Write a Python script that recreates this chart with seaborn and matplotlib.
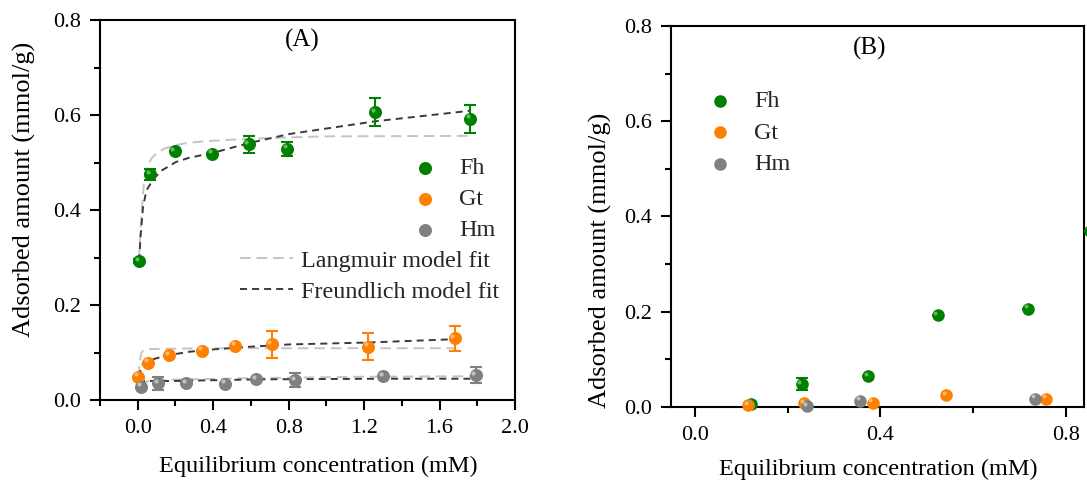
import matplotlib
matplotlib.use("Agg")
import matplotlib.pyplot as plt
from matplotlib.transforms import offset_copy
from matplotlib.ticker import MultipleLocator, FixedLocator
import seaborn as sns
import numpy as np
import pandas as pd

# ---------------- data ----------------
# Panel A : isotherm data
fh_x_A = [0.007, 0.064, 0.195, 0.396, 0.588, 0.791, 1.258, 1.763]
fh_y_A = [0.292, 0.475, 0.524, 0.518, 0.538, 0.529, 0.606, 0.592]
fh_e_A = [0.004, 0.0115, 0.0, 0.0, 0.0175, 0.015, 0.030, 0.030]
gt_x_A = [0.004, 0.055, 0.166, 0.343, 0.517, 0.710, 1.221, 1.680]
gt_y_A = [0.049, 0.078, 0.0945, 0.104, 0.114, 0.117, 0.112, 0.130]
gt_e_A = [0.0, 0.0, 0.0, 0.0, 0.0, 0.029, 0.0287, 0.026]
hm_x_A = [0.016, 0.110, 0.258, 0.464, 0.627, 0.834, 1.299, 1.791]
hm_y_A = [0.028, 0.035, 0.035, 0.034, 0.0434, 0.042, 0.050, 0.0525]
hm_e_A = [0.0, 0.014, 0.0, 0.0, 0.0, 0.015, 0.0, 0.0175]

# Panel A : model-fit curves
lang_fh_x = [0.007, 0.011, 0.021, 0.034, 0.045, 0.057, 0.075, 0.096, 0.14, 0.193, 0.26, 0.361, 0.591, 0.981, 1.759]
lang_fh_y = [0.294, 0.330, 0.399, 0.462, 0.485, 0.497, 0.510, 0.518, 0.529, 0.536, 0.541, 0.545, 0.550, 0.555, 0.556]
freu_fh_x = [0.007, 0.016, 0.028, 0.046, 0.078, 0.122, 0.202, 0.272, 0.396, 0.591, 0.804, 1.264, 1.763]
freu_fh_y = [0.292, 0.350, 0.406, 0.441, 0.462, 0.482, 0.501, 0.510, 0.520, 0.541, 0.560, 0.587, 0.609]
lang_gt_x = [0.004, 0.010, 0.019, 0.030, 0.050, 0.150, 0.500, 1.000, 1.680]
lang_gt_y = [0.049, 0.078, 0.100, 0.104, 0.107, 0.108, 0.109, 0.109, 0.109]
freu_gt_x = [0.004, 0.025, 0.051, 0.096, 0.166, 0.272, 0.396, 0.591, 0.804, 1.221, 1.680]
freu_gt_y = [0.049, 0.074, 0.081, 0.0875, 0.0945, 0.1015, 0.1064, 0.112, 0.117, 0.121, 0.128]
lang_hm_x = [0.016, 0.030, 0.060, 0.200, 0.600, 1.200, 1.791]
lang_hm_y = [0.028, 0.036, 0.040, 0.043, 0.046, 0.049, 0.050]
freu_hm_x = [0.016, 0.034, 0.184, 0.627, 1.300, 1.791]
freu_hm_y = [0.029, 0.040, 0.040, 0.0434, 0.0448, 0.0448]

# Panel B
fh_x_B = [0.120, 0.230, 0.374, 0.523, 0.719, 0.852]
fh_y_B = [0.0057, 0.048, 0.0645, 0.193, 0.206, 0.370]
fh_e_B = [0.004, 0.0126, 0.0, 0.0, 0.0, 0.0]
gt_x_B = [0.115, 0.235, 0.383, 0.541, 0.758]
gt_y_B = [0.004, 0.008, 0.009, 0.025, 0.017]
hm_x_B = [0.241, 0.356, 0.733]
hm_y_B = [0.002, 0.013, 0.017]

series_names = ["Fh", "Gt", "Hm"]
x_ticks_A = [0.0, 0.4, 0.8, 1.2, 1.6, 2.0]
x_ticks_B = [0.0, 0.4, 0.8]
y_ticks = [0.0, 0.2, 0.4, 0.6, 0.8]

# ---------------- style ----------------
sns.set_theme(style="ticks")
plt.rcParams["font.family"] = ["Liberation Serif", "DejaVu Serif"]
plt.rcParams["axes.linewidth"] = 1.5

colors = {"Fh": "#008000", "Gt": "#ff8000", "Hm": "#808080"}
hilite = {"Fh": "#6fbf6f", "Gt": "#ffc080", "Hm": "#c8c8c8"}
LANG_C = "#c4c4c4"
FREU_C = "#3a3a3a"
TICK_FS = 16
LAB_FS = 17.5
YLAB_FS = 19
LEG_FS = 17.4

fig = plt.figure(figsize=(10.87, 4.83), dpi=100)
fig.patch.set_facecolor("white")
axA = fig.add_axes([0.0920, 0.17184, 0.38178, 0.78675])
axB = fig.add_axes([0.61684, 0.15735, 0.38086, 0.78882])


def style_axes(ax, xlim, xmajor, xminor):
    ax.set_facecolor("white")
    ax.set_xlim(*xlim)
    ax.set_ylim(0.0, 0.8)
    ax.xaxis.set_major_locator(FixedLocator(xmajor))
    ax.xaxis.set_minor_locator(FixedLocator(xminor))
    ax.yaxis.set_major_locator(FixedLocator(y_ticks))
    ax.yaxis.set_minor_locator(MultipleLocator(0.1))
    ax.set_xticklabels([f"{v:.1f}" for v in xmajor])
    ax.set_yticklabels([f"{v:.1f}" for v in y_ticks])
    ax.tick_params(which="major", direction="out", length=7, width=1.5,
                   labelsize=TICK_FS, color="black", labelcolor="black", pad=6.5)
    ax.tick_params(which="minor", direction="out", length=4, width=1.5, color="black")
    ax.tick_params(top=False, right=False, which="both")
    for s in ax.spines.values():
        s.set_visible(True)
        s.set_color("black")
        s.set_linewidth(1.5)


def draw_points(ax, xs, ys, name, size, errs=None):
    if errs is not None:
        ax.errorbar(xs, ys, yerr=errs, fmt="none", ecolor=colors[name],
                    elinewidth=1.5, capsize=4.5, capthick=1.5, zorder=3, clip_on=False)
    sns.scatterplot(x=xs, y=ys, ax=ax, s=size, color=colors[name], linewidth=0,
                    zorder=4, label=name, clip_on=False, legend=False)
    tr = offset_copy(ax.transData, fig=fig, x=-1.6, y=1.8, units="points")
    sns.scatterplot(x=xs, y=ys, ax=ax, s=size * 0.1, color=hilite[name], linewidth=0,
                    zorder=5, transform=tr, clip_on=False, legend=False, alpha=0.9)


def draw_curve(ax, xs, ys, color, dashes, label):
    df = pd.DataFrame({"x": xs, "y": ys})
    sns.lineplot(data=df, x="x", y="y", ax=ax, color=color, lw=1.4, sort=False,
                 estimator=None, legend=False, zorder=2)
    ln = ax.get_lines()[-1]
    ln.set_linestyle((0, dashes))
    ln.set_label(label)
    return ln


# ---------------- Panel A ----------------
style_axes(axA, (-0.2, 2.0), x_ticks_A, [-0.2, 0.2, 0.6, 1.0, 1.4, 1.8])
l_lang = draw_curve(axA, lang_fh_x, lang_fh_y, LANG_C, (5.5, 3.0), "Langmuir model fit")
l_freu = draw_curve(axA, freu_fh_x, freu_fh_y, FREU_C, (3.6, 2.6), "Freundlich model fit")
draw_curve(axA, lang_gt_x, lang_gt_y, LANG_C, (5.5, 3.0), "_nolegend_")
draw_curve(axA, freu_gt_x, freu_gt_y, FREU_C, (3.6, 2.6), "_nolegend_")
draw_curve(axA, lang_hm_x, lang_hm_y, LANG_C, (5.5, 3.0), "_nolegend_")
draw_curve(axA, freu_hm_x, freu_hm_y, FREU_C, (3.6, 2.6), "_nolegend_")

draw_points(axA, fh_x_A, fh_y_A, "Fh", 88, fh_e_A)
draw_points(axA, gt_x_A, gt_y_A, "Gt", 88, gt_e_A)
draw_points(axA, hm_x_A, hm_y_A, "Hm", 88, hm_e_A)

axA.set_xlabel("Equilibrium concentration (mM)", fontsize=LAB_FS, color="black")
axA.xaxis.set_label_coords(0.525, -0.174)
axA.xaxis.label.set_va("center")
axA.set_ylabel("Adsorbed amount (mmol/g)", fontsize=YLAB_FS, color="black")
axA.yaxis.set_label_coords(-0.183, 0.555)
axA.yaxis.label.set_va("center")
axA.text(0.487, 0.947, "(A)", transform=axA.transAxes, ha="center", va="center",
         fontsize=18, color="black")

hA, labA = axA.get_legend_handles_labels()
pt_handles = [h for h, l in zip(hA, labA) if l in series_names]
pt_labels = [l for l in labA if l in series_names]
legA1 = axA.legend(pt_handles, pt_labels, loc="upper left", bbox_to_anchor=(0.754, 0.638),
                   frameon=False, fontsize=LEG_FS, handlelength=1.0, handletextpad=0.91,
                   labelspacing=0.37, borderpad=0, borderaxespad=0, scatterpoints=1)
axA.add_artist(legA1)
legA2 = axA.legend([l_lang, l_freu], ["Langmuir model fit", "Freundlich model fit"],
                   loc="upper left", bbox_to_anchor=(0.337, 0.395), frameon=False,
                   fontsize=LEG_FS, handlelength=2.2, handletextpad=0.35,
                   labelspacing=0.37, borderpad=0, borderaxespad=0)

# ---------------- Panel B ----------------
style_axes(axB, (-0.0528, 0.840), x_ticks_B, [0.2, 0.6])
draw_points(axB, fh_x_B, fh_y_B, "Fh", 82, fh_e_B)
draw_points(axB, gt_x_B, gt_y_B, "Gt", 82)
draw_points(axB, hm_x_B, hm_y_B, "Hm", 82)

axB.set_xlabel("Equilibrium concentration (mM)", fontsize=LAB_FS, color="black")
axB.xaxis.set_label_coords(0.502, -0.165)
axB.xaxis.label.set_va("center")
axB.set_ylabel("Adsorbed amount (mmol/g)", fontsize=YLAB_FS, color="black")
axB.yaxis.set_label_coords(-0.170, 0.386)
axB.yaxis.label.set_va("center")
axB.text(0.482, 0.940, "(B)", transform=axB.transAxes, ha="center", va="center",
         fontsize=18, color="black")

hB, labB = axB.get_legend_handles_labels()
ptB = [h for h, l in zip(hB, labB) if l in series_names]
lbB = [l for l in labB if l in series_names]
axB.legend(ptB, lbB, loc="upper left", bbox_to_anchor=(0.0906, 0.8305), frameon=False,
           fontsize=LEG_FS, handlelength=1.0, handletextpad=0.91, labelspacing=0.39,
           borderpad=0, borderaxespad=0, scatterpoints=1)

fig.savefig("out.png", dpi=100, facecolor="white")
